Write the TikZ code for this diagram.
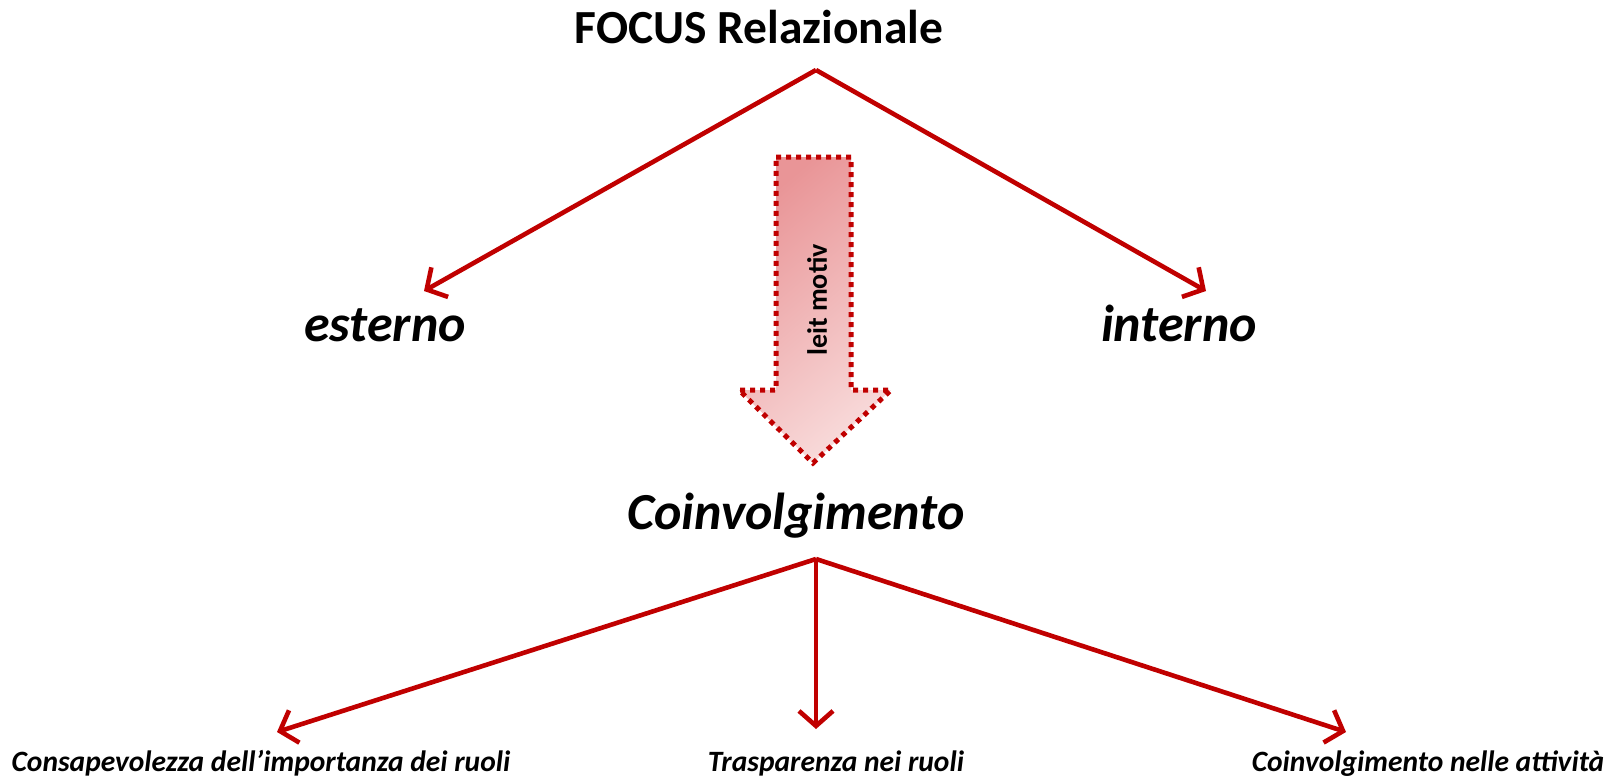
\documentclass[tikz,border=0pt]{standalone}
\usepackage{fontspec}
\setmainfont{Carlito}
\usetikzlibrary{arrows.meta}
\definecolor{dred}{HTML}{C00000}
\definecolor{pinkA}{HTML}{E99597}
\definecolor{pinkB}{HTML}{F8DADA}
\begin{document}
\begin{tikzpicture}[x=1pt,y=-1pt,
  conn/.style={draw=dred, line width=4.6pt, line join=round,
    -{Straight Barb[length=15pt,width=34pt,line width=4.6pt]}},
  lbl/.style={inner sep=0pt, anchor=base},
  big/.style={font=\fontsize{52}{56}\selectfont\bfseries\itshape},
  small/.style={font=\fontsize{29.5}{32}\selectfont\bfseries\itshape}]
\useasboundingbox (0,0) rectangle (1620,777);
% title
\node[lbl, font=\fontsize{47.5}{50}\selectfont\bfseries] (title) at (759,43) {FOCUS Relazionale};
\node[lbl, big] (esterno) at (385,341) {esterno};
\node[lbl, big] (interno) at (1179,341) {interno};
\node[lbl, big] (coinv) at (796,529) {Coinvolgimento};
\node[lbl, small] (consap) at (261,771) {Consapevolezza dell’importanza dei ruoli};
\node[lbl, small] (trasp) at (836,771) {Trasparenza nei ruoli};
\node[lbl, small] (attiv) at (1428,771) {Coinvolgimento nelle attività};
% apexes and tips
\coordinate (topapex) at (816,70);
\coordinate (tipL) at (424,291);
\coordinate (tipR) at (1206,291);
\coordinate (botapex) at (816,559);
\coordinate (tipA) at (277,732);
\coordinate (tipB) at (816,729);
\coordinate (tipC) at (1346,732);
\draw[conn] (topapex) -- (tipL);
\draw[conn] (topapex) -- (tipR);
\draw[conn] (botapex) -- (tipA);
\draw[conn] (botapex) -- (tipB);
\draw[conn] (botapex) -- (tipC);
% leit motiv arrow
\draw[draw=dred, line width=5pt, dash pattern=on 5pt off 5pt,
  top color=pinkA, bottom color=pinkB, shading angle=40]
  (776,157) -- (851,157) -- (851,390) -- (891,390) -- (813,463) -- (739,390) -- (776,390) -- cycle;
\node[inner sep=0pt, rotate=90, font=\fontsize{28}{30}\selectfont\bfseries] (leit) at (817,300) {leit motiv};
\end{tikzpicture}
\end{document}
